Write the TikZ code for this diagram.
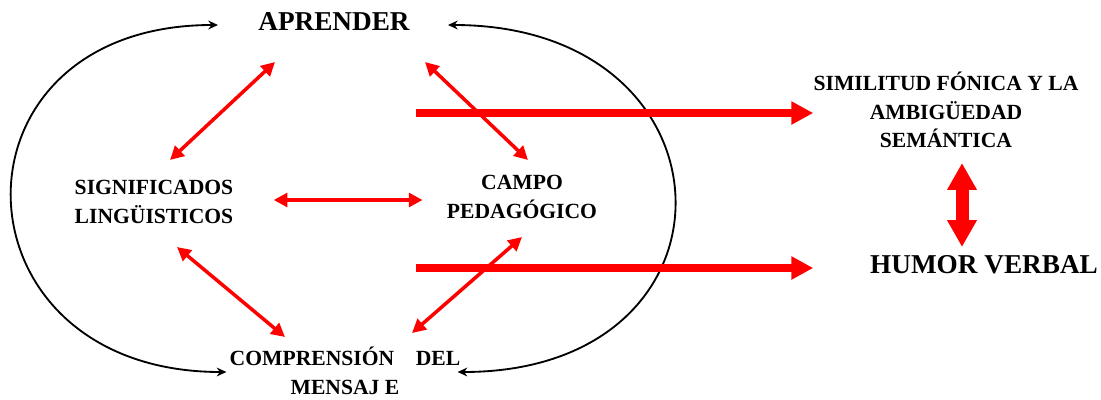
\documentclass[tikz,border=0pt]{standalone}
\usepackage{fontspec}
\setmainfont{Liberation Serif}
\usetikzlibrary{arrows.meta}

\begin{document}
\begin{tikzpicture}[
            x=0.02cm, y=-0.02cm,
            etiqueta/.style={font=\bfseries\fontsize{12.3}{16.2}\selectfont, align=center, inner sep=0pt},
            titulo/.style={font=\bfseries\fontsize{15.5}{18}\selectfont, inner sep=0pt},
            ciclo/.style={{Stealth[length=5.5pt,width=5pt]}-{Stealth[length=5.5pt,width=5pt]}, line width=1.05pt},
            enlace/.style={{Triangle[length=7.8pt,width=7.8pt]}-{Triangle[length=7.8pt,width=7.8pt]}, line width=2pt, red},
            salida/.style={-{Triangle[length=12.5pt,width=12.5pt]}, line width=4pt, red},
            relacion/.style={{Triangle[length=15.3pt,width=15.9pt]}-{Triangle[length=15.3pt,width=15.9pt]}, line width=7.4pt, red}
        ]
        \useasboundingbox (0,0) rectangle (1101,399);

        % Conceptos del ciclo
        \node[titulo] (aprender) at (334,22) {APRENDER};
        \node[etiqueta] (sig) at (154,202) {SIGNIFICADOS\\LINGÜISTICOS};
        \node[etiqueta] (campo) at (522,197) {CAMPO\\PEDAGÓGICO};
        \node[etiqueta] (comp) at (345,371) {COMPRENSIÓN\quad DEL\\MENSAJ E};

        % Conceptos de la derecha
        \node[etiqueta] (simil) at (946,110) {SIMILITUD FÓNICA Y LA\\AMBIGÜEDAD\\SEMÁNTICA};
        \node[titulo] (humor) at (984,265) {HUMOR VERBAL};

        % Arcos negros que cierran el ciclo
        \draw[ciclo] ([shift={(-3,1)}]comp.west) .. controls +(-280,0) and +(-280,0) .. ([shift={(-40,3)}]aprender.west);
        \draw[ciclo] ([shift={(38,3)}]aprender.east) .. controls +(295,0) and +(295,0) .. ([shift={(-3,1)}]comp.east);

        % Relaciones internas
        \draw[enlace] ([shift={(16,-42)}]sig.center) -- ([shift={(-59,40)}]aprender.center);
        \draw[enlace] ([shift={(91,40)}]aprender.center) -- ([shift={(6,-37)}]campo.center);
        \draw[enlace] ([shift={(40,-2)}]sig.east) -- ([shift={(-24,3)}]campo.west);
        \draw[enlace] ([shift={(23,45)}]sig.center) -- ([shift={(-60,-34)}]comp.center);
        \draw[enlace] ([shift={(0,40)}]campo.center) -- ([shift={(67,-38)}]comp.center);

        % Salidas hacia la derecha
        \coordinate (salidaA) at (416,113);
        \coordinate (salidaB) at (416,268);
        \draw[salida] (salidaA) -- (salidaA -| simil.west);
        \draw[salida] (salidaB) -- (salidaB -| simil.west);

        % Relacion entre similitud y humor
        \draw[relacion] ([shift={(16,53)}]simil.center) -- ([shift={(-22,-18)}]humor.center);

    \end{tikzpicture}
\end{document}
